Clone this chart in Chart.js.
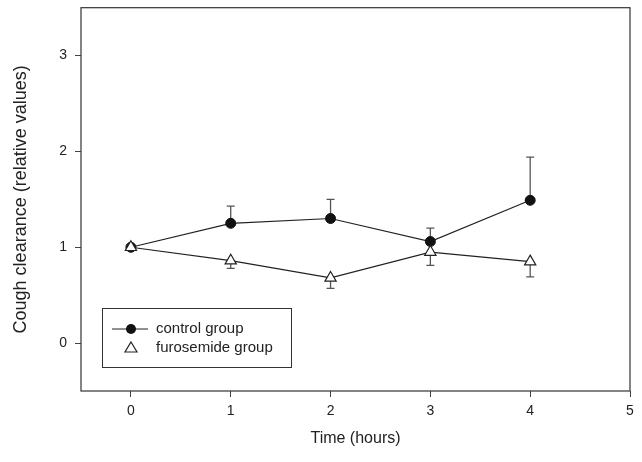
<!DOCTYPE html>
<html>
<head>
<meta charset="utf-8">
<script src="https://cdn.jsdelivr.net/npm/chart.js@4/dist/chart.umd.min.js"></script>
<style>
  html, body { margin: 0; padding: 0; background: #fff; }
  #wrap { width: 642px; height: 462px; }
</style>
</head>
<body>
<div id="wrap"><canvas id="coughChart" width="642" height="462"></canvas></div>
<script>
// ---- data ----
const hours = [0, 1, 2, 3, 4];
const controlMean = [1.00, 1.25, 1.30, 1.06, 1.49];
const controlErr = [0, 0.18, 0.20, 0.14, 0.45];
const furosemideMean = [1.00, 0.86, 0.68, 0.95, 0.85];
const furosemideErr = [0, 0.08, 0.11, 0.14, 0.16];
const xTicks = [0, 1, 2, 3, 4, 5];
const yTicks = [0, 1, 2, 3];
const seriesNames = ["control group", "furosemide group"];

const ink = "#222";
const font = "'Liberation Sans', Arial, sans-serif";

function toPoints(xs, ys) {
    return xs.map((x, i) => ({ x: x, y: ys[i] }));
}

// error bars: control upward, furosemide downward
const errorBars = {
    id: "errorBars",
    beforeDatasetsDraw(chart) {
        const ctx = chart.ctx;
        const xs = chart.scales.x;
        const ys = chart.scales.y;
        const sets = [
            { mean: controlMean, err: controlErr, dir: 1 },
            { mean: furosemideMean, err: furosemideErr, dir: -1 }
        ];
        ctx.save();
        ctx.strokeStyle = "#555";
        ctx.lineWidth = 1.3;
        sets.forEach(s => {
            hours.forEach((h, i) => {
                if (!s.err[i]) return;
                const px = xs.getPixelForValue(h);
                const p0 = ys.getPixelForValue(s.mean[i]);
                const p1 = ys.getPixelForValue(s.mean[i] + s.dir * s.err[i]);
                ctx.beginPath();
                ctx.moveTo(px, p0);
                ctx.lineTo(px, p1);
                ctx.moveTo(px - 4, p1);
                ctx.lineTo(px + 4, p1);
                ctx.stroke();
            });
        });
        ctx.restore();
    }
};

// frame around plot area and the boxed legend inside it
const frameAndLegend = {
    id: "frameAndLegend",
    afterDraw(chart) {
        const ctx = chart.ctx;
        const a = chart.chartArea;
        ctx.save();
        ctx.strokeStyle = "#333";
        ctx.lineWidth = 1.2;
        ctx.strokeRect(a.left, a.top, a.right - a.left, a.bottom - a.top);

        // legend box
        const bx = a.left + 21, by = a.bottom - 83;
        const bw = 189, bh = 59;
        ctx.lineWidth = 1;
        ctx.strokeRect(bx + 0.5, by + 0.5, bw, bh);

        const mx = bx + 29;
        const row1 = by + 21, row2 = by + 40;
        ctx.strokeStyle = ink;
        ctx.lineWidth = 1.2;
        ctx.beginPath();
        ctx.moveTo(bx + 10, row1);
        ctx.lineTo(bx + 46, row1);
        ctx.stroke();
        ctx.fillStyle = "#111";
        ctx.beginPath();
        ctx.arc(mx, row1, 5, 0, Math.PI * 2);
        ctx.fill();

        ctx.fillStyle = "#fff";
        ctx.beginPath();
        ctx.moveTo(mx, row2 - 6);
        ctx.lineTo(mx + 6, row2 + 4);
        ctx.lineTo(mx - 6, row2 + 4);
        ctx.closePath();
        ctx.fill();
        ctx.stroke();

        ctx.fillStyle = ink;
        ctx.font = "15px " + font;
        ctx.textBaseline = "middle";
        ctx.fillText(seriesNames[0], bx + 54, row1);
        ctx.fillText(seriesNames[1], bx + 54, row2);
        ctx.restore();
    }
};

new Chart(document.getElementById("coughChart"), {

    type: "line",

    data: {
        datasets: [
            {
                label: seriesNames[0],
                data: toPoints(hours, controlMean),
                order: 2,
                borderColor: ink,
                borderWidth: 1.2,
                pointStyle: "circle",
                pointRadius: 5,
                pointBackgroundColor: "#111",
                pointBorderColor: "#111",
                pointBorderWidth: 1
            },
            {
                label: seriesNames[1],
                data: toPoints(hours, furosemideMean),
                order: 1,
                borderColor: ink,
                borderWidth: 1.2,
                pointStyle: "triangle",
                pointRadius: 6.5,
                pointBackgroundColor: "#fff",
                pointBorderColor: ink,
                pointBorderWidth: 1.2
            }
        ]
    },

    options: {
        responsive: false,
        animation: false,
        layout: { padding: { top: 7, right: 12, left: 0, bottom: 0 } },
        plugins: {
            legend: { display: false },
            tooltip: { enabled: false }
        },
        scales: {
            x: {
                type: "linear",
                min: -0.5,
                max: 5,
                afterBuildTicks(scale) {
                    scale.ticks = xTicks.map(v => ({ value: v }));
                },
                afterFit(scale) { scale.height = 71; },
                grid: {
                    drawOnChartArea: false,
                    tickLength: 6,
                    tickColor: "#444"
                },
                border: { display: false },
                ticks: {
                    color: ink,
                    padding: 6,
                    font: { family: font, size: 14 },
                    maxRotation: 0
                },
                title: {
                    display: true,
                    text: "Time (hours)",
                    color: ink,
                    font: { family: font, size: 16 },
                    padding: { top: 4, bottom: 14 }
                }
            },
            y: {
                min: -0.5,
                max: 3.5,
                afterBuildTicks(scale) {
                    scale.ticks = yTicks.map(v => ({ value: v }));
                },
                afterFit(scale) {
                    scale.width = 81;
                    scale.paddingTop = 0;
                    scale.paddingBottom = 0;
                },
                grid: {
                    drawOnChartArea: false,
                    tickLength: 6,
                    tickColor: "#444"
                },
                border: { display: false },
                ticks: {
                    color: ink,
                    padding: 8,
                    font: { family: font, size: 14 }
                },
                title: {
                    display: true,
                    text: "Cough clearance (relative values)",
                    color: ink,
                    font: { family: font, size: 18 },
                    padding: { top: 10, bottom: 4 }
                }
            }
        }
    },

    plugins: [errorBars, frameAndLegend]
});
</script>
</body>
</html>
